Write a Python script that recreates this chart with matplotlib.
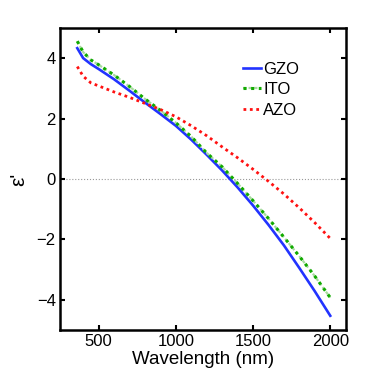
import numpy as np
import matplotlib
matplotlib.use('Agg')
import matplotlib.pyplot as plt
from matplotlib.legend_handler import HandlerTuple

plt.rcParams['font.family'] = ['Liberation Sans', 'DejaVu Sans']
plt.rcParams['font.size'] = 12

wl = [362, 400, 450, 500, 600, 700, 800, 900, 1000, 1100, 1200,
      1300, 1400, 1500, 1600, 1700, 1800, 1900, 2000]
gzo = [4.33, 4.0, 3.8, 3.64, 3.3, 2.92, 2.53, 2.15, 1.76, 1.3, 0.8,
       0.28, -0.28, -0.88, -1.52, -2.2, -2.95, -3.72, -4.53]
ito = [4.56, 4.2, 3.94, 3.78, 3.44, 3.06, 2.65, 2.27, 1.86, 1.4, 0.86,
       0.4, -0.15, -0.72, -1.31, -1.93, -2.56, -3.22, -3.93]
azo = [3.72, 3.4, 3.18, 3.08, 2.88, 2.7, 2.5, 2.3, 2.06, 1.76, 1.43,
       1.06, 0.7, 0.32, -0.08, -0.5, -0.96, -1.45, -1.97]

fig = plt.figure(figsize=(3.82, 3.72), dpi=100)
ax = fig.add_axes([0.157, 0.113, 0.748, 0.812])

ax.axhline(0, color='#999999', lw=0.8, ls=':', zorder=1)
l1, = ax.plot(wl, gzo, color='#2233ff', lw=1.9)
# ITO: dash-dot that renders as dark dots over faint dashes
l2a, = ax.plot(wl, ito, color='#a8dca0', lw=1.6, ls=(0, (1.5, 1)))
l2b, = ax.plot(wl, ito, color='#11aa00', lw=2.2, ls=(0, (1, 1.5)))
l3, = ax.plot(wl, azo, color='#ff1111', lw=2, ls=(0, (1, 1.3)))

ax.set_xlim(250, 2100)
ax.set_ylim(-5, 5)
ax.set_xticks([500, 1000, 1500, 2000])
ax.set_yticks([-4, -2, 0, 2, 4])
ax.set_yticklabels(['\u22124', '\u22122', '0', '2', '4'])
ax.tick_params(direction='in', top=True, right=True, length=3.6, width=1.5,
               pad=3, labelsize=12)
for s in ax.spines.values():
    s.set_linewidth(1.8)

ax.set_xlabel('Wavelength (nm)', fontsize=13.5, labelpad=1)
ax.set_ylabel("\u03b5'", fontsize=15, labelpad=6)

lg = ax.legend([l1, (l2a, l2b), l3], ['GZO', 'ITO', 'AZO'],
               handler_map={tuple: HandlerTuple(ndivide=1)},
               loc='upper right', bbox_to_anchor=(0.86, 0.91), frameon=False,
               handlelength=1.1, handletextpad=0.1, labelspacing=0.33,
               fontsize=12, borderaxespad=0)

plt.savefig('out.png', dpi=100)
